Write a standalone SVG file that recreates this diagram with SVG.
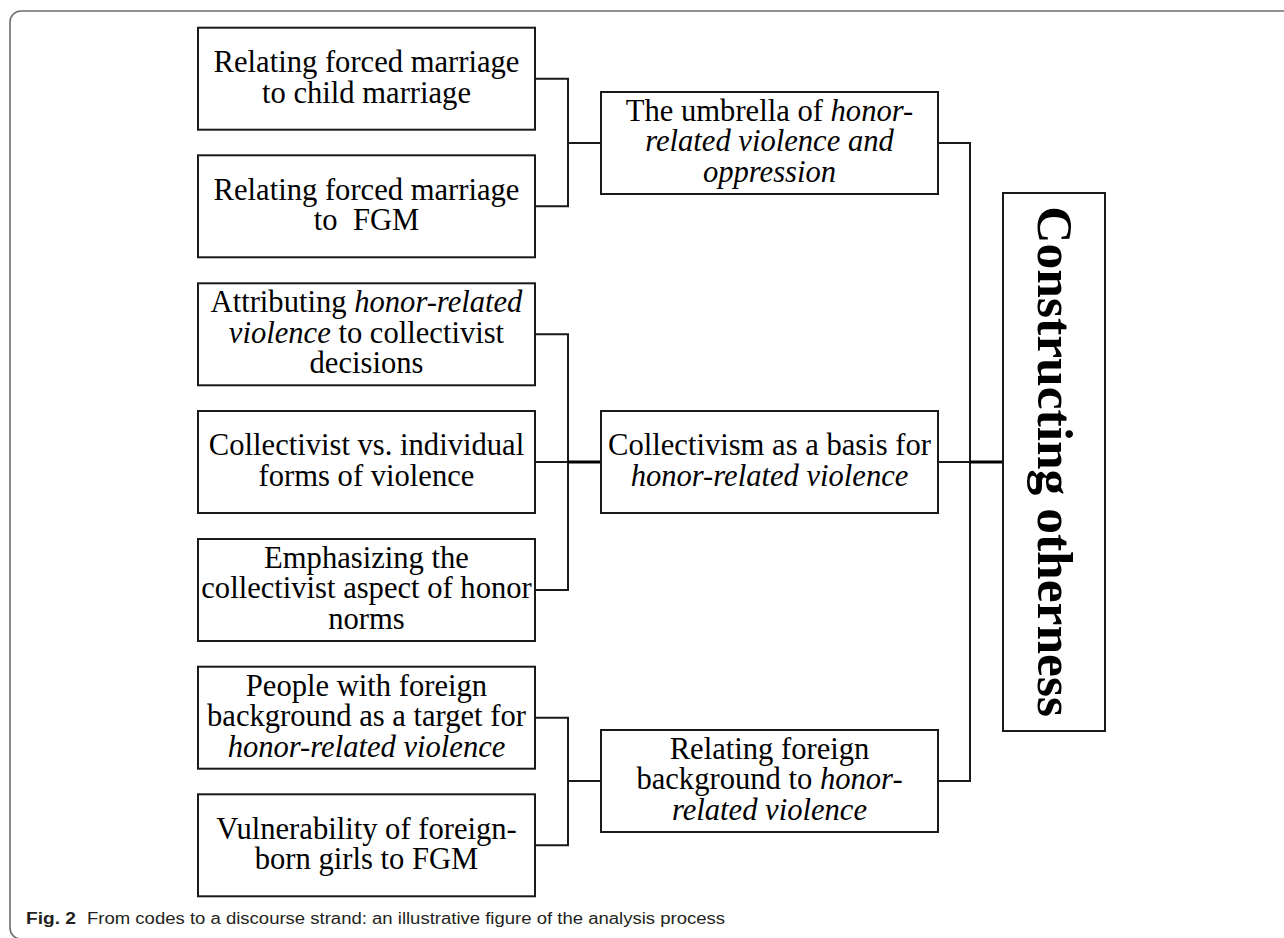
<svg xmlns="http://www.w3.org/2000/svg" width="1284" height="938" viewBox="0 0 1284 938">
<style>
.box{fill:#fff;stroke:#1a1a1a;stroke-width:2}
.t{font-family:"Liberation Serif","Times New Roman",serif;font-size:30.6px;fill:#000;text-anchor:middle}
.i{font-style:italic}
.c{fill:none;stroke:#1a1a1a;stroke-width:2}
.ck{fill:none;stroke:#000;stroke-width:3.2}
.frame{fill:none;stroke:#6e6e6e;stroke-width:1.6}
.cap{font-family:"Liberation Sans",Arial,sans-serif;font-size:16px;fill:#231f20}
</style>
<rect width="1284" height="938" fill="#fff"/>
<path class="frame" d="M1284 11 H21 A11 11 0 0 0 10 22 V928 A11 11 0 0 0 21 939"/>

<g id="connectors">
<path class="c" d="M535 78.7 H568 V206.3 H535 M568 143 H601"/>
<path class="c" d="M535 334.3 H568 V590 H535 M535 462 H568"/>
<path class="ck" d="M568 462 H601"/>
<path class="c" d="M535 717.7 H568 V845.3 H535 M568 781 H601"/>
<path class="c" d="M938 143 H970 V781 H938 M938 462 H970"/>
<path class="ck" d="M970 462 H1003"/>
</g>

<g id="n1">
<rect class="box" x="198" y="27.7" width="337" height="102"/>
<text class="t" x="366.5" y="71.9">Relating forced marriage</text>
<text class="t" x="366.5" y="102.5">to child marriage</text>
</g>
<g id="n2">
<rect class="box" x="198" y="155.3" width="337" height="102"/>
<text class="t" x="366.5" y="199.5">Relating forced marriage</text>
<text class="t" x="366.5" y="230.1" xml:space="preserve">to  FGM</text>
</g>
<g id="n3">
<rect class="box" x="198" y="283.3" width="337" height="102"/>
<text class="t" x="366.5" y="312.1">Attributing <tspan class="i">honor-related</tspan></text>
<text class="t" x="366.5" y="342.7"><tspan class="i">violence</tspan> to collectivist</text>
<text class="t" x="366.5" y="373.3">decisions</text>
</g>
<g id="n4">
<rect class="box" x="198" y="411" width="337" height="102"/>
<text class="t" x="366.5" y="455.2">Collectivist vs. individual</text>
<text class="t" x="366.5" y="485.8">forms of violence</text>
</g>
<g id="n5">
<rect class="box" x="198" y="539" width="337" height="102"/>
<text class="t" x="366.5" y="567.5">Emphasizing the</text>
<text class="t" x="366.5" y="598.1">collectivist aspect of honor</text>
<text class="t" x="366.5" y="628.7">norms</text>
</g>
<g id="n6">
<rect class="box" x="198" y="666.7" width="337" height="102"/>
<text class="t" x="366.5" y="695.7">People with foreign</text>
<text class="t" x="366.5" y="726.3">background as a target for</text>
<text class="t i" x="366.5" y="756.9">honor-related violence</text>
</g>
<g id="n7">
<rect class="box" x="198" y="794.3" width="337" height="102"/>
<text class="t" x="366.5" y="838.5">Vulnerability of foreign-</text>
<text class="t" x="366.5" y="869.1">born girls to FGM</text>
</g>

<g id="m1">
<rect class="box" x="601" y="92" width="337" height="102"/>
<text class="t" x="769.5" y="120.8">The umbrella of <tspan class="i">honor-</tspan></text>
<text class="t i" x="769.5" y="151.4">related violence and</text>
<text class="t i" x="769.5" y="182">oppression</text>
</g>
<g id="m2">
<rect class="box" x="601" y="411" width="337" height="102"/>
<text class="t" x="769.5" y="455.2">Collectivism as a basis for</text>
<text class="t i" x="769.5" y="485.8">honor-related violence</text>
</g>
<g id="m3">
<rect class="box" x="601" y="730" width="337" height="102"/>
<text class="t" x="769.5" y="758.8">Relating foreign</text>
<text class="t" x="769.5" y="789.4">background to <tspan class="i">honor-</tspan></text>
<text class="t i" x="769.5" y="820">related violence</text>
</g>

<g id="root">
<rect class="box" x="1003" y="193" width="102" height="538"/>
<text transform="translate(1038,461.7) rotate(90)" x="0" y="0" style="font-family:'Liberation Serif','Times New Roman',serif;font-size:51.5px;font-weight:bold;text-anchor:middle;fill:#000">Constructing otherness</text>
</g>

<g id="caption">
<text class="cap" x="26" y="923.5" font-weight="bold" textLength="50" lengthAdjust="spacingAndGlyphs">Fig. 2</text>
<text class="cap" x="87" y="923.5" textLength="638" lengthAdjust="spacingAndGlyphs">From codes to a discourse strand: an illustrative figure of the analysis process</text>
</g>
</svg>
